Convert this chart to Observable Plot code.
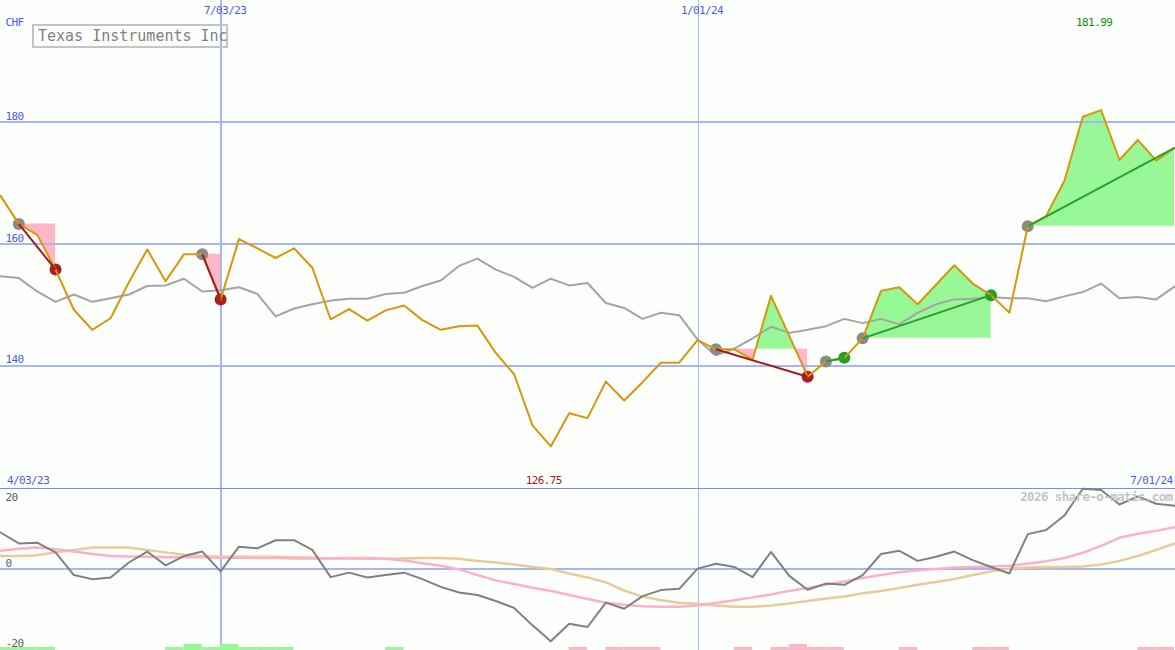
<!DOCTYPE html>
<html><head><meta charset="utf-8">
<script src="https://cdn.jsdelivr.net/npm/d3@7"></script>
<script src="https://cdn.jsdelivr.net/npm/@observablehq/plot@0.6"></script>
<style>
html,body{margin:0;padding:0;background:#fcfffc;}
#chart{position:relative;width:1175px;height:650px;overflow:hidden;}
#chart svg{position:absolute;left:0;}
#chart svg text{letter-spacing:-0.6px;}
#title{position:absolute;left:32px;top:24px;width:196px;height:24px;box-sizing:border-box;border:2px solid #c4c4c4;
  font:15px "DejaVu Sans Mono",monospace;color:#808080;line-height:20px;padding-left:4px;white-space:nowrap;z-index:2;background:transparent;}
</style></head>
<body><div id="chart"><div id="title">Texas Instruments Inc</div></div>
<script>
// ---- data ----
const startDate = "2023-04-10";
const price = [167.9,163.3,161.5,155.8,149.2,145.9,147.8,153.7,159.1,153.9,
  158.3,158.3,150.9,160.8,159.3,157.7,159.3,156.1,147.6,149.3,
  147.4,149.1,149.9,147.5,145.9,146.5,146.6,142.1,138.6,130.2,
  126.75,132.2,131.4,137.4,134.3,137.3,140.5,140.5,144.2,142.7,
  142.7,141.0,151.5,144.9,138.2,140.7,141.3,144.5,152.3,152.9,
  150.1,153.3,156.5,153.5,151.6,148.7,162.9,164.6,170.4,180.9,
  181.99,173.8,177.1,173.7,175.8];
const indexLine = [154.7,154.4,152.2,150.5,151.7,150.5,151.1,151.7,153.1,153.2,
  154.3,152.2,152.4,152.9,151.8,148.1,149.4,150.1,150.7,151.0,
  151.0,151.8,152.0,153.1,154.0,156.4,157.6,155.8,154.6,152.8,
  154.3,153.2,153.6,150.3,149.5,147.7,148.7,148.3,144.3,141.7,
  142.8,144.5,146.4,145.4,145.9,146.5,147.7,147.0,147.7,146.8,
  148.7,150.1,150.9,151.0,151.3,151.1,151.1,150.6,151.4,152.1,
  153.5,151.1,151.3,150.9,153.0];
const momentum = [8.9,6.2,6.4,4.0,-1.6,-2.6,-2.2,1.5,4.2,0.8,
  3.1,4.2,-0.7,5.4,5.0,7.0,7.0,4.6,-2.1,-1.0,
  -2.2,-1.6,-1.0,-2.6,-4.5,-5.9,-6.5,-8.0,-9.7,-14.0,
  -17.9,-13.6,-14.4,-8.4,-9.9,-6.8,-5.3,-5.0,0,1.2,
  0.4,-2.1,4.1,-1.8,-5.2,-3.7,-4.0,-1.6,3.6,4.4,
  1.9,2.9,4.2,2.1,0.4,-1.2,8.5,9.5,13.1,19.7,
  19.4,15.8,17.8,16.0,15.5];
const fastAvg = [4.4,4.9,5.2,4.8,4.2,3.6,3.1,3.0,2.9,2.8,
  2.8,2.8,2.7,2.7,2.6,2.6,2.5,2.5,2.5,2.6,
  2.6,2.4,2.0,1.3,0.7,-0.2,-1.6,-2.9,-3.8,-4.7,
  -5.5,-6.5,-7.5,-8.4,-8.9,-9.3,-9.4,-9.4,-9.1,-8.5,
  -7.8,-7.1,-6.4,-5.5,-4.8,-3.9,-3.2,-2.3,-1.6,-0.9,
  -0.4,-0.1,0.3,0.4,0.5,0.7,1.2,1.8,2.6,3.9,
  5.6,7.6,8.6,9.3,10.2];
const slowAvg = [3.1,3.1,3.3,4.0,4.6,5.2,5.2,5.2,4.6,4.0,
  3.4,3.1,2.9,2.9,2.9,2.9,2.8,2.7,2.5,2.5,
  2.4,2.4,2.5,2.6,2.6,2.4,1.9,1.5,1.0,0.4,
  -0.1,-1.2,-2.2,-3.4,-5.4,-6.9,-7.8,-8.4,-8.7,-9.1,
  -9.4,-9.4,-9.1,-8.6,-8.0,-7.4,-6.9,-6.1,-5.5,-4.8,
  -4.0,-3.3,-2.6,-1.6,-0.7,0,0.3,0.4,0.4,0.5,
  1.0,1.9,3.1,4.6,6.2];
// weekly histogram (one per interval between consecutive weeks)
const histo = [0.75,0.75,0.75,0,0,0,0,0,0,0.75,
  1.5,0.75,1.5,0.75,0.75,0.75,0,0,0,0,
  0,0.75,0,0,0,0,0,0,0,0,
  0,-0.75,0,-0.75,-0.75,-0.75,0,0,0,0,
  -0.75,0,-0.75,-1.5,-0.75,-0.75,0,0,0,-0.75,
  0,0,0,-0.75,-0.75,0,0,0,0,0,
  0,0,-0.75,-0.75];
// signals (week indices)
const sigStart = [1, 11, 39, 45, 47, 56];
const sigEnd   = [3, 12, 44, 46, 54, 64];
const sigKind  = ["sell","sell","sell","buy","buy","buy"];
const sigOpen  = [false,false,false,false,false,true];
// tick labels
const priceTicks = [140, 160, 180];
const oscTicks = [20, 0, -20];
const oscTickLabels = ["20", "0", "-20"];
const xTickDates = ["2023-07-03", "2024-01-01"];
const xTickLabels = ["7/03/23", "1/01/24"];
const currency = "CHF";
const rangeStartLabel = "4/03/23";
const rangeEndLabel = "7/01/24";
const watermark = "2026 share-o-matic.com";

// ---- derived ----
const t0 = new Date(startDate);
const dates = price.map((_, i) => new Date(+t0 + i * 7 * 864e5));
const rows = price.map((p, i) => ({date: dates[i], price: p, index: indexLine[i],
  mom: momentum[i], fast: fastAvg[i], slow: slowAvg[i]}));
const bars = histo.map((h, k) => ({x1: dates[k], x2: dates[k + 1], h})).filter(d => d.h !== 0);
const BASE = -20.2;

const fillRows = [];
let segId = 0;
sigStart.forEach((a, s) => {
  const b = sigEnd[s], L = price[a];
  const pts = [];
  for (let i = a; i <= b; i++) {
    pts.push({t: dates[i], v: price[i]});
    if (i < b) {
      const d0 = price[i] - L, d1 = price[i + 1] - L;
      if (d0 * d1 < 0) {
        const f = d0 / (d0 - d1);
        pts.push({t: new Date(+dates[i] + f * (dates[i + 1] - dates[i])), v: L});
      }
    }
  }
  let cur = null;
  for (let j = 0; j < pts.length - 1; j++) {
    const m = (pts[j].v + pts[j + 1].v) / 2 - L;
    if (m === 0) { cur = null; continue; }
    const kind = m > 0 ? "up" : "down";
    if (kind !== cur) { segId++; cur = kind; fillRows.push({...pts[j], L, seg: segId, kind}); }
    fillRows.push({...pts[j + 1], L, seg: segId, kind});
  }
});
const sigLinks = sigStart.map((a, s) => ({x1: dates[a], y1: price[a], x2: dates[sigEnd[s]], y2: price[sigEnd[s]], kind: sigKind[s]}));
const startDots = sigStart.map(a => ({date: dates[a], price: price[a]}));
const endDots = sigEnd.map((b, s) => ({date: dates[b], price: price[b], kind: sigKind[s], open: sigOpen[s]})).filter(d => !d.open);
const iMax = d3.maxIndex(price), iMin = d3.minIndex(price);

const GRID = "#a8b4f4", BLUE = "#4a5af0", DIV = "#7a8af0";
const xOpt = {type: "utc", domain: [dates[0], dates[dates.length - 1]], range: [0, 1174], axis: null};
const baseStyle = {background: "transparent", fontFamily: "DejaVu Sans Mono, monospace", fontSize: "11px"};
const vRules = [
  Plot.ruleX([new Date(xTickDates[0])], {stroke: GRID, strokeWidth: 2, shapeRendering: "crispEdges"}),
  Plot.ruleX([new Date(xTickDates[1])], {stroke: GRID, strokeWidth: 1, dx: 0.5, shapeRendering: "crispEdges"})
];

const upper = Plot.plot({
  width: 1175, height: 487,
  marginTop: 0, marginBottom: 0, marginLeft: 0, marginRight: 0,
  style: baseStyle,
  x: xOpt,
  y: {domain: [120, 200], range: [487, 0], axis: null},
  marks: [
    Plot.areaY(fillRows.filter(d => d.kind === "up"), {x: "t", y1: "L", y2: "v", z: "seg", fill: "#98f898", curve: "linear"}),
    Plot.areaY(fillRows.filter(d => d.kind === "down"), {x: "t", y1: "L", y2: "v", z: "seg", fill: "#ffb6c8", curve: "linear"}),
    Plot.ruleY(priceTicks, {stroke: GRID, strokeWidth: 2, shapeRendering: "crispEdges"}),
    ...vRules,
    Plot.ruleY([120], {stroke: DIV, strokeWidth: 1, dy: -0.5, shapeRendering: "crispEdges"}),
    Plot.line(rows, {x: "date", y: "index", stroke: "#a4a4a4", strokeWidth: 2}),
    Plot.dot(startDots, {x: "date", y: "price", r: 6, fill: "#8a8a8a"}),
    Plot.dot(endDots, {x: "date", y: "price", r: 6, fill: d => d.kind === "buy" ? "#22a022" : "#a82020"}),
    Plot.line(rows, {x: "date", y: "price", stroke: "#d8960a", strokeWidth: 2}),
    Plot.link(sigLinks, {x1: "x1", y1: "y1", x2: "x2", y2: "y2",
      stroke: d => d.kind === "buy" ? "#28a028" : "#a01c1c", strokeWidth: 2}),
    Plot.text([currency], {x: dates[0], y: 200, text: d => d, dx: 5, dy: 21.5, textAnchor: "start", fill: BLUE}),
    Plot.text(xTickLabels, {x: (d, i) => new Date(xTickDates[i]), y: 200, text: d => d, dx: 4.5, dy: 9.5, textAnchor: "middle", fill: BLUE}),
    Plot.text(priceTicks, {x: dates[0], y: d => d, text: d => String(d), dx: 5, dy: -6, textAnchor: "start", fill: BLUE}),
    Plot.text([price[iMax].toFixed(2)], {x: dates[iMax], y: 200, text: d => d, dx: -7, dy: 21.5, textAnchor: "middle", fill: "#108a10"}),
    Plot.text([price[iMin].toFixed(2)], {x: dates[iMin], y: 120, text: d => d, dx: -7, dy: -7.5, textAnchor: "middle", fill: "#a01818"}),
    Plot.text([rangeStartLabel], {x: dates[0], y: 120, text: d => d, dx: 6.5, dy: -7.5, textAnchor: "start", fill: BLUE}),
    Plot.text([rangeEndLabel], {x: dates[dates.length - 1], y: 120, text: d => d, dx: -2, dy: -7.5, textAnchor: "end", fill: BLUE})
  ]
});

const lower = Plot.plot({
  width: 1175, height: 163,
  marginTop: 0, marginBottom: 0, marginLeft: 0, marginRight: 0,
  style: baseStyle,
  x: xOpt,
  y: {domain: [BASE, 20], range: [163, 0], axis: null},
  marks: [
    Plot.ruleY([0], {stroke: GRID, strokeWidth: 2, shapeRendering: "crispEdges"}),
    ...vRules,
    Plot.ruleY([20], {stroke: DIV, strokeWidth: 1, dy: 0.5, shapeRendering: "crispEdges"}),
    Plot.rectY(bars, {x1: "x1", x2: "x2", y1: BASE, y2: d => BASE + Math.abs(d.h),
      fill: d => d.h > 0 ? "#98f898" : "#ffb6c8", inset: 0}),
    Plot.line(rows, {x: "date", y: "slow", stroke: "#e6cc98", strokeWidth: 2.5}),
    Plot.line(rows, {x: "date", y: "fast", stroke: "#ffb0c8", strokeWidth: 2.5}),
    Plot.line(rows, {x: "date", y: "mom", stroke: "#808080", strokeWidth: 2}),
    Plot.text([oscTickLabels[0]], {x: dates[0], y: oscTicks[0], text: d => d, dx: 5, dy: 9.5, textAnchor: "start", fill: "#606060"}),
    Plot.text([oscTickLabels[1]], {x: dates[0], y: oscTicks[1], text: d => d, dx: 5, dy: -5.6, textAnchor: "start", fill: "#606060"}),
    Plot.text([oscTickLabels[2]], {x: dates[0], y: oscTicks[2], text: d => d, dx: 5, dy: -6.7, textAnchor: "start", fill: "#606060"}),
    Plot.text([watermark], {x: dates[dates.length - 1], y: 20, text: d => d, dx: -2, dy: 9.2, textAnchor: "end",
      fill: "#c4c4c4", fontWeight: "bold", fontSize: 12.5})
  ]
});
upper.style.top = "0px";
lower.style.top = "487px";
const el = document.getElementById("chart");
el.prepend(lower);
el.prepend(upper);
</script>
</body></html>
